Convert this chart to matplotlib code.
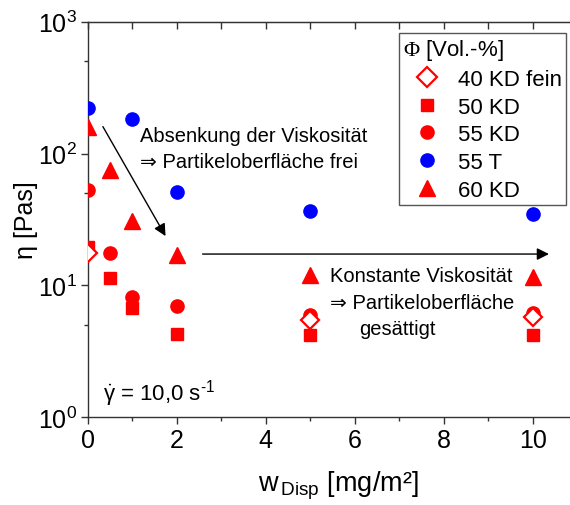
import matplotlib
matplotlib.use("Agg")
import matplotlib.pyplot as plt
from matplotlib.ticker import LogLocator, MultipleLocator, NullFormatter
from matplotlib.lines import Line2D

plt.rcParams["font.family"] = ["Liberation Sans", "DejaVu Sans"]
plt.rcParams["mathtext.fontset"] = "custom"
plt.rcParams["mathtext.rm"] = "Liberation Sans"
plt.rcParams["mathtext.it"] = "Liberation Sans:italic"
plt.rcParams["mathtext.sf"] = "Liberation Serif"
plt.rcParams["mathtext.default"] = "regular"

# data
fein40_x = [0, 5, 10]
fein40_y = [17.5, 5.5, 5.8]

kd50_x = [0, 0.5, 1, 2, 5, 10]
kd50_y = [19.5, 11.3, 6.8, 4.3, 4.2, 4.2]

kd55_x = [0, 0.5, 1, 2, 5, 10]
kd55_y = [53, 17.6, 8.2, 7.0, 6.0, 6.2]

t55_x = [0, 1, 2, 5, 10]
t55_y = [223, 184, 51, 37, 35]

kd60_x = [0, 0.5, 1, 2, 5, 10]
kd60_y = [160, 75, 31, 17, 12, 11.6]

red = "#ff0000"
blue = "#0000ff"
spine_col = "#333333"

fig = plt.figure(figsize=(5.7, 5.06), dpi=100)
ax = fig.add_axes([0.1539, 0.1733, 0.8461, 0.7818])

ax.plot(kd50_x, kd50_y, ls="none", marker="s", ms=8, color=red, mec=red, zorder=3)
ax.plot(kd55_x, kd55_y, ls="none", marker="o", ms=9.5, color=red, mec=red, zorder=3)
ax.plot(t55_x, t55_y, ls="none", marker="o", ms=9.5, color=blue, mec=blue, zorder=3)
ax.plot(kd60_x, kd60_y, ls="none", marker="^", ms=11, color=red, mec=red, zorder=3)
ax.plot(fein40_x, fein40_y, ls="none", marker="D", ms=9.5, mfc="white", mec=red, mew=1.6, zorder=4)

ax.set_yscale("log")
ax.set_ylim(1, 1000)
ax.set_xlim(0, 10.84)

ax.xaxis.set_major_locator(MultipleLocator(2))
ax.xaxis.set_minor_locator(MultipleLocator(1))
ax.yaxis.set_major_locator(LogLocator(base=10))
ax.yaxis.set_minor_locator(LogLocator(base=10, subs=[5]))
ax.yaxis.set_minor_formatter(NullFormatter())

for s in ["left", "bottom", "top"]:
    ax.spines[s].set_color(spine_col)
    ax.spines[s].set_linewidth(1)
ax.spines["right"].set_visible(False)

ax.tick_params(axis="both", which="major", direction="out", length=5, width=1,
               color=spine_col, labelsize=18, pad=3)
ax.tick_params(axis="both", which="minor", direction="out", length=3, width=1,
               color=spine_col)
ax.tick_params(axis="y", which="both", right=False)

sec = ax.secondary_xaxis("top")
sec.xaxis.set_major_locator(MultipleLocator(2))
sec.xaxis.set_minor_locator(MultipleLocator(1))
sec.tick_params(which="both", direction="in", length=5, width=1, color=spine_col,
                labeltop=False)
sec.spines["top"].set_color(spine_col)

ax.set_xlabel(r"w$_{\,\mathrm{Disp}}$ [mg/m²]", fontsize=19.5, labelpad=12)
ax.xaxis.label.set_x(0.52)
ax.set_ylabel("η [Pas]", fontsize=18, labelpad=0)

# annotations
ax.annotate("", xy=(1.78, 22.7), xytext=(0.31, 167),
            arrowprops=dict(arrowstyle="-|>", color="black", lw=1, mutation_scale=18))
ax.annotate("", xy=(10.43, 17.3), xytext=(2.52, 17.3),
            arrowprops=dict(arrowstyle="-|>", color="black", lw=1, mutation_scale=18))

ax.text(1.18, 137, "Absenkung der Viskosität", fontsize=14.5, va="center")
ax.text(1.18, 87, "⇒ Partikeloberfläche frei", fontsize=14.5, va="center")
ax.text(5.45, 12.0, "Konstante Viskosität", fontsize=14.5, va="center")
ax.text(5.45, 7.4, "⇒ Partikeloberfläche", fontsize=14.5, va="center")
ax.text(6.1, 4.7, "gesättigt", fontsize=14.5, va="center")
ax.text(0.35, 1.53, r"$\dot{\gamma}$ = 10,0 s$^{\text{-1}}$", fontsize=16, va="center")

handles = [
    Line2D([], [], ls="none", marker="D", ms=10, mfc="white", mec=red, mew=1.6),
    Line2D([], [], ls="none", marker="s", ms=8, color=red),
    Line2D([], [], ls="none", marker="o", ms=9.5, color=red),
    Line2D([], [], ls="none", marker="o", ms=9.5, color=blue),
    Line2D([], [], ls="none", marker="^", ms=11, color=red),
]
labels = ["40 KD fein", "50 KD", "55 KD", "55 T", "60 KD"]
leg = ax.legend(handles, labels, title=r"$\mathsf{\Phi}$ [Vol.-%]", loc="upper right",
                bbox_to_anchor=(0.991, 0.971), borderaxespad=0, fontsize=16,
                title_fontsize=16, alignment="left", fancybox=False,
                framealpha=1, edgecolor="#555555", handlelength=2.2,
                handletextpad=0.26, labelspacing=0.3, borderpad=0.18)
leg.get_frame().set_linewidth(1)

fig.savefig("out.png", dpi=100)
